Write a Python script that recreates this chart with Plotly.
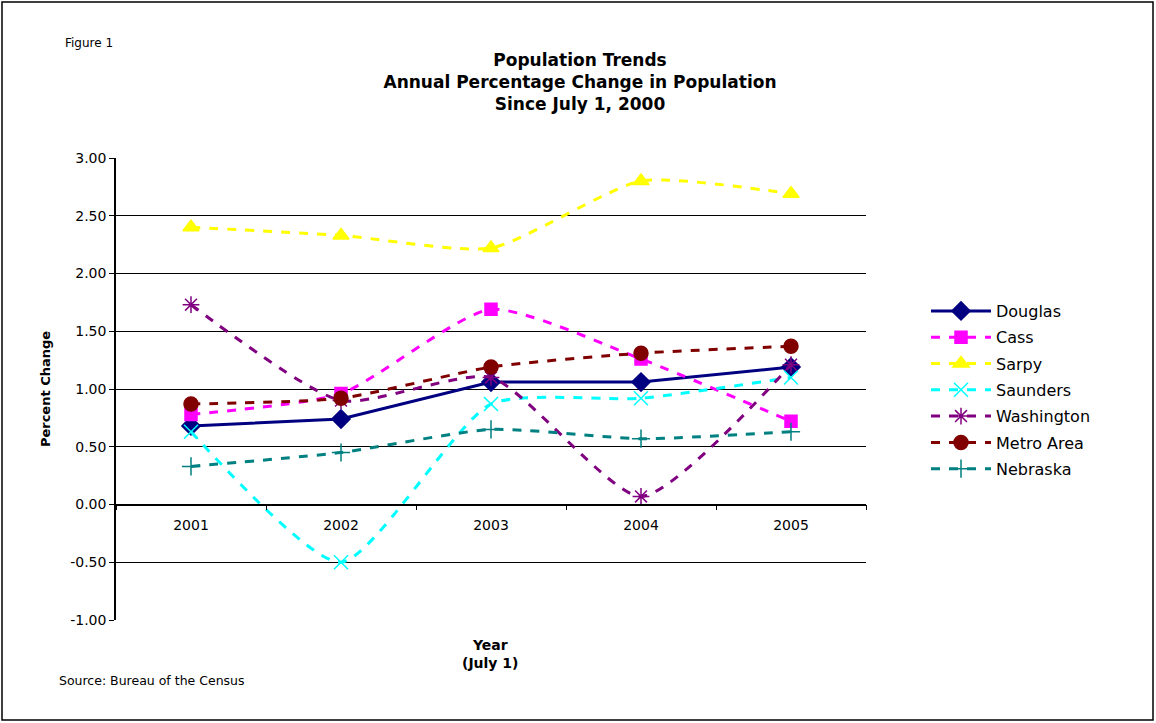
import plotly.graph_objects as go

years = ["2001", "2002", "2003", "2004", "2005"]
douglas = [0.68, 0.74, 1.06, 1.06, 1.19]
cass = [0.78, 0.96, 1.69, 1.26, 0.72]
sarpy = [2.40, 2.33, 2.22, 2.80, 2.69]
saunders = [0.63, -0.50, 0.87, 0.92, 1.10]
washington = [1.73, 0.90, 1.10, 0.07, 1.21]
metro = [0.87, 0.92, 1.19, 1.31, 1.37]
nebraska = [0.33, 0.45, 0.65, 0.57, 0.63]
y_ticks = [3.0, 2.5, 2.0, 1.5, 1.0, 0.5, 0.0, -0.5, -1.0]

series = [
    ("Douglas", douglas, "#000080", "solid", "diamond", 14, "linear"),
    ("Cass", cass, "#FF00FF", "dash", "square", 12, "spline"),
    ("Sarpy", sarpy, "#FFFF00", "dash", "triangle-up", 14, "spline"),
    ("Saunders", saunders, "#00FFFF", "dash", "x-thin-open", 14, "spline"),
    ("Washington", washington, "#800080", "dash", "asterisk-open", 14, "spline"),
    ("Metro Area", metro, "#800000", "dash", "circle", 14, "spline"),
    ("Nebraska", nebraska, "#008080", "dash", "cross-thin-open", 13, "spline"),
]

FONT = "DejaVu Sans, Arial"

fig = go.Figure()
for name, vals, color, dash, sym, size, shape in series:
    fig.add_trace(go.Scatter(
        x=years, y=vals, name=name, legendgroup=name, mode="lines+markers",
        line=dict(color=color, width=3, dash=dash, shape=shape, smoothing=0.6),
        marker=dict(symbol=sym, size=size, color=color,
                    line=dict(color=color, width=1.5)),
    ))

W, H = 1156, 723
L, R, T, B = 116, 290, 158, 103
pw, ph = W - L - R, H - T - B

def px(x):
    return (x - L) / pw

def py(y):
    return (H - B - y) / ph

fig.update_layout(
    width=W, height=H,
    margin=dict(l=L, r=R, t=T, b=B),
    paper_bgcolor="white", plot_bgcolor="white",
    font=dict(family=FONT, size=14, color="black"),
    showlegend=True,
    legend=dict(x=px(926), y=py(294), xanchor="left", yanchor="top",
                font=dict(size=16), itemwidth=60, tracegroupgap=2.5,
                bgcolor="rgba(0,0,0,0)"),
    xaxis=dict(type="category", range=[-0.5, 4.5], anchor="free",
               position=0.25, showline=True, linecolor="black", linewidth=1.5,
               ticks="outside", tickson="boundaries", ticklen=5,
               tickcolor="black", showgrid=False, zeroline=False,
               ticklabelstandoff=8, tickfont=dict(size=14)),
    yaxis=dict(range=[-1.0, 3.0], tickvals=y_ticks,
               ticktext=[f"{v:.2f}" for v in y_ticks],
               showline=True, linecolor="black", linewidth=1.5,
               ticks="outside", ticklen=5, tickcolor="black",
               showgrid=True, gridcolor="black", gridwidth=1,
               zeroline=False, tickfont=dict(size=14),
               title=dict(text="<b>Percent Change</b>", font=dict(size=13),
                          standoff=17)),
    title=dict(text="<b>Population Trends<br>Annual Percentage Change in Population<br>Since July 1, 2000</b>",
               x=(580) / W, xanchor="center", y=1 - 66 / H, yanchor="top",
               font=dict(size=17)),
    shapes=[dict(type="rect", xref="paper", yref="paper",
                 x0=px(2), x1=px(1153), y0=py(720), y1=py(2),
                 line=dict(color="black", width=1.5))],
    annotations=[
        dict(text="Figure 1", xref="paper", yref="paper", x=px(63), y=py(43),
             xanchor="left", yanchor="middle", showarrow=False,
             font=dict(size=12)),
        dict(text="Source: Bureau of the Census", xref="paper", yref="paper",
             x=px(57), y=py(680), xanchor="left", yanchor="middle",
             showarrow=False, font=dict(size=12.5)),
        dict(text="<b>Year<br>(July 1)</b>", xref="paper", yref="paper",
             x=px(490), y=py(654), xanchor="center", yanchor="middle",
             showarrow=False, font=dict(size=14)),
    ],
)

fig.write_html("out.html", config={"displayModeBar": False},
               post_script="document.body.style.margin='0';document.body.style.padding='0';")
